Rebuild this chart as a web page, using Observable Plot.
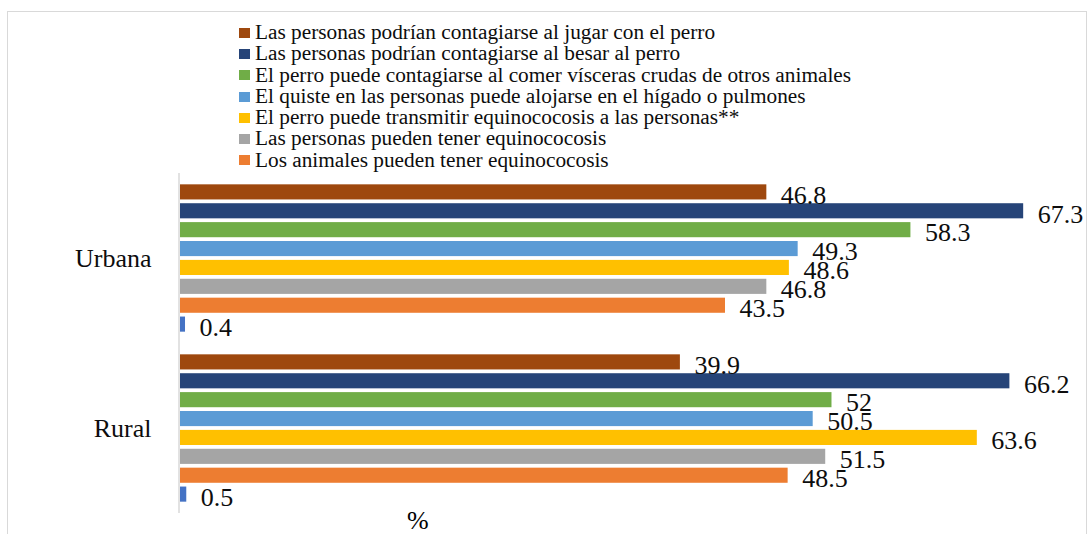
<!DOCTYPE html>
<html>
<head>
<meta charset="utf-8">
<script src="https://cdn.jsdelivr.net/npm/d3@7"></script>
<script src="https://cdn.jsdelivr.net/npm/@observablehq/plot@0.6"></script>
<style>
  html, body { margin: 0; padding: 0; background: #fff; }
  #wrap { position: relative; width: 1090px; height: 534px; overflow: hidden; font-family: 'Liberation Serif', serif; color: #000; }
  #frame { position: absolute; left: 7px; top: 11px; width: 1080px; height: 600px; border: 1px solid #d9d9d9; box-sizing: border-box; }
  #legend { position: absolute; left: 239px; top: 22px; font-family: 'Liberation Serif', serif; font-size: 21.3px; line-height: 21.3px; color: #0d0d0d; }
  #legend .row { display: flex; align-items: center; white-space: nowrap; height: 21.3px; }
  #legend .sw { width: 11px; height: 10px; margin-right: 5px; flex: none; }
  #chart { position: absolute; left: 0; top: 0; }
  #xlabel { position: absolute; left: 407px; top: 506px; font-family: 'Liberation Serif', serif; font-size: 26px; }
</style>
</head>
<body>
<div id="wrap">
  <div id="frame"></div>
  <div id="chart"></div>
  <div id="legend"></div>
  <div id="xlabel">%</div>
</div>
<script>
const groups = ["Urbana", "Rural"];
const series = [
  "Las personas podrían contagiarse al jugar con el perro",
  "Las personas podrían contagiarse al besar al perro",
  "El perro puede contagiarse al comer vísceras crudas de otros animales",
  "El quiste en las personas puede alojarse en el hígado o pulmones",
  "El perro puede transmitir equinococosis a las personas**",
  "Las personas pueden tener equinococosis",
  "Los animales pueden tener equinococosis",
  "(sin etiqueta)"
];
const legendSeries = series.slice(0, 7);
const colors = ["#9E480E", "#264478", "#70AD47", "#5B9BD5", "#FFC000", "#A5A5A5", "#ED7D31", "#4472C4"];
const urbanaValues = [46.8, 67.3, 58.3, 49.3, 48.6, 46.8, 43.5, 0.4];
const ruralValues  = [39.9, 66.2, 52, 50.5, 63.6, 51.5, 48.5, 0.5];

const data = [];
series.forEach((s, i) => {
  data.push({grupo: "Urbana", serie: s, valor: urbanaValues[i]});
  data.push({grupo: "Rural", serie: s, valor: ruralValues[i]});
});

const legend = document.getElementById("legend");
legendSeries.forEach((s, i) => {
  const row = document.createElement("div");
  row.className = "row";
  const sw = document.createElement("span");
  sw.className = "sw";
  sw.style.background = colors[i];
  const t = document.createElement("span");
  t.textContent = s;
  row.appendChild(sw);
  row.appendChild(t);
  legend.appendChild(row);
});

const FONT = "Liberation Serif";
const chart = Plot.plot({
  width: 1090,
  height: 534,
  marginLeft: 180,
  marginRight: 33,
  marginTop: 173,
  marginBottom: 21,
  style: {fontFamily: FONT, background: "transparent", color: "#000"},
  x: {domain: [0, 70], axis: null},
  y: {domain: series, axis: null, paddingInner: 0.2, paddingOuter: 0.6, round: false},
  fy: {domain: groups, padding: 0, axis: null, round: false},
  color: {domain: series, range: colors},
  marks: [
    Plot.barX(data, {fy: "grupo", y: "serie", x: "valor", fill: "serie"}),
    Plot.text(data, {fy: "grupo", y: "serie", x: "valor", text: d => String(d.valor), textAnchor: "start", dx: 14, dy: 3, fontSize: 26, fontFamily: FONT, fill: "#0d0d0d"}),
    Plot.ruleX([0], {stroke: "#d9d9d9", strokeWidth: 1.5, dx: -1.5}),
    Plot.axisFy({anchor: "left", tickSize: 0, tickPadding: 29, fontSize: 26, fontFamily: FONT, fill: "#0d0d0d", label: null})
  ]
});
document.getElementById("chart").appendChild(chart);
</script>
</body>
</html>
